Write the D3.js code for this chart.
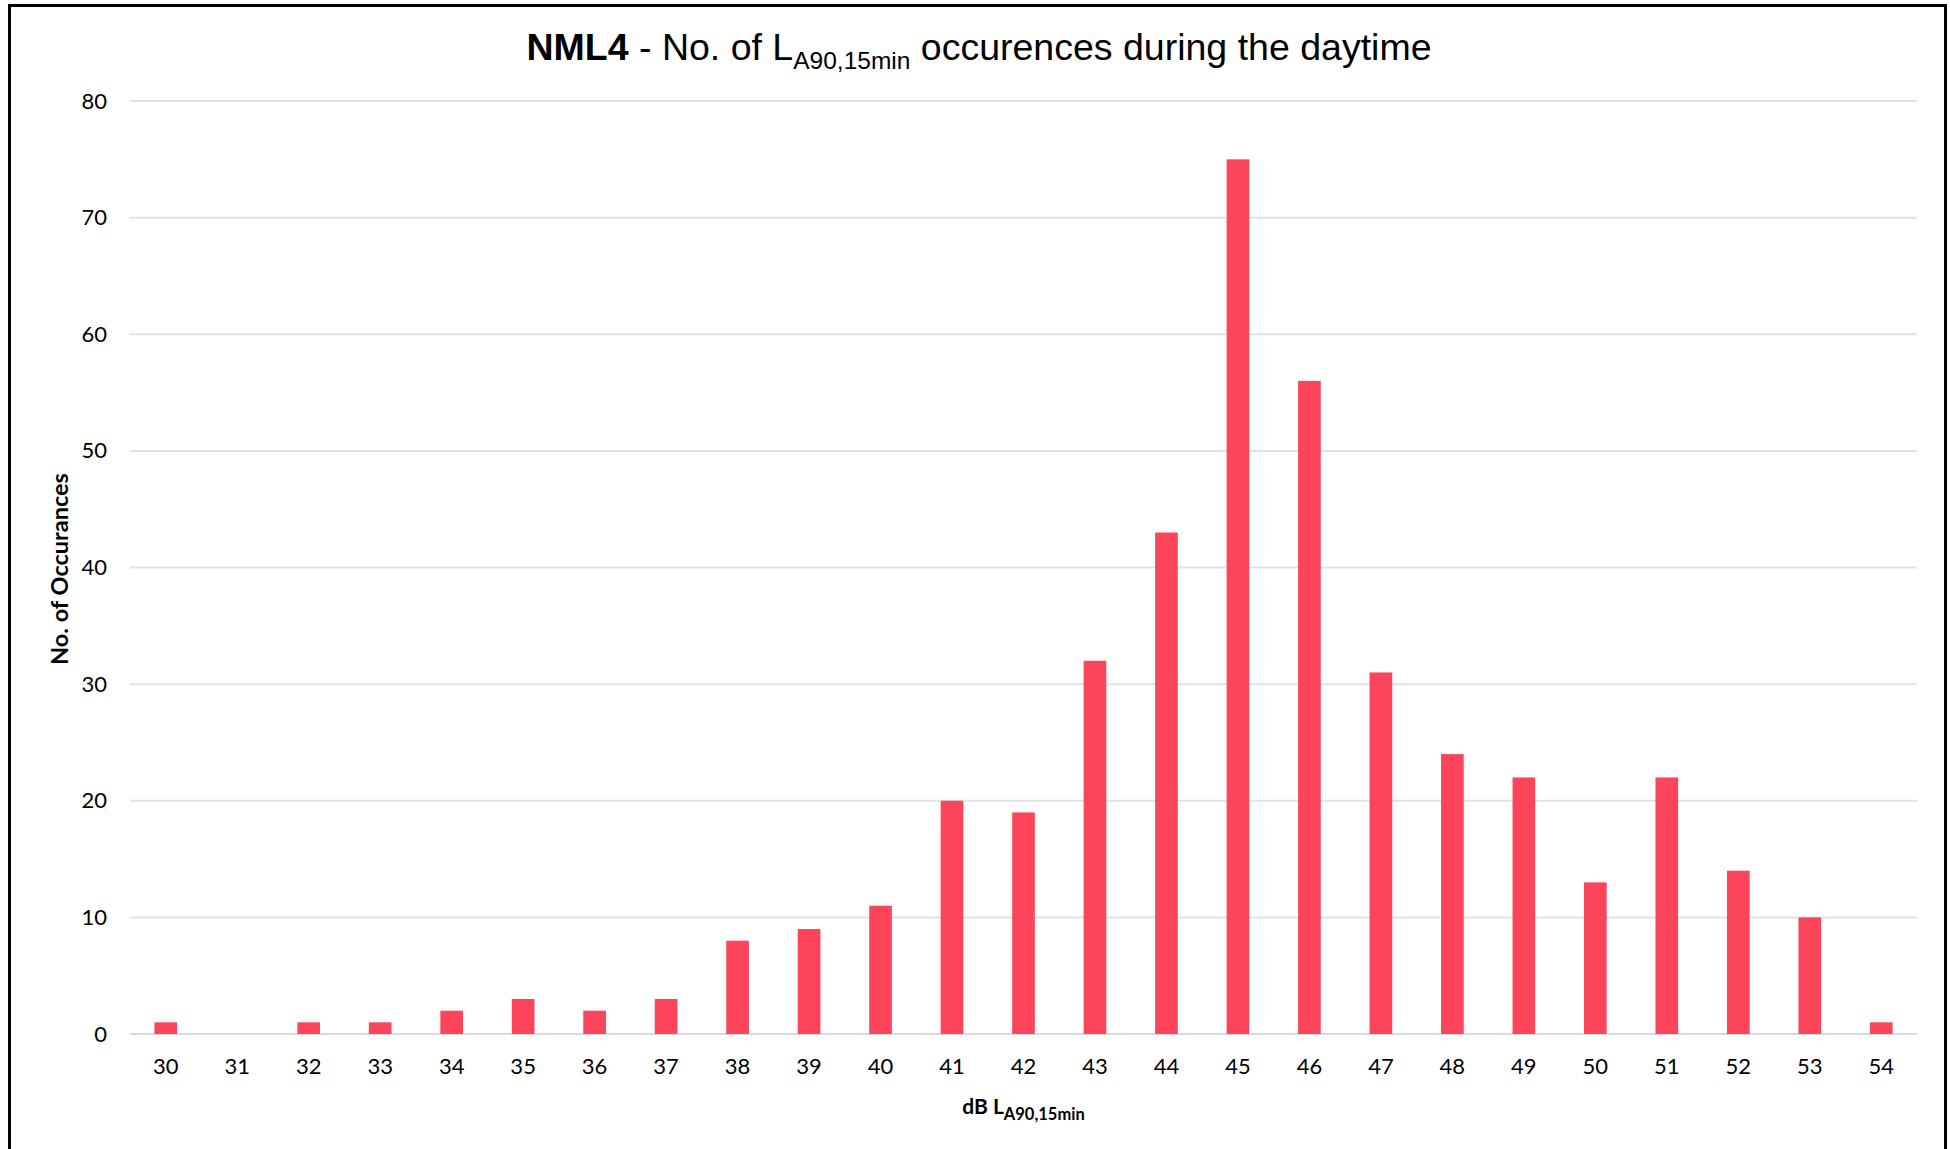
<!DOCTYPE html>
<html>
<head>
<meta charset="utf-8">
<script src="https://cdn.jsdelivr.net/npm/d3@7"></script>
<style>
  body { margin: 0; background: #fff; }
  svg { display: block; }
</style>
</head>
<body>
<script>
var levels = ['30','31','32','33','34','35','36','37','38','39','40','41','42','43','44','45','46','47','48','49','50','51','52','53','54']
var counts = [1, 0, 1, 1, 2, 3, 2, 3, 8, 9, 11, 20, 19, 32, 43, 75, 56, 31, 24, 22, 13, 22, 14, 10, 1]
var yTicks = [0, 10, 20, 30, 40, 50, 60, 70, 80]

var W = 1950, H = 1149
var margin = {top: 101, right: 33, bottom: 115, left: 130}
var width = W - margin.left - margin.right
var height = H - margin.top - margin.bottom

var svg = d3.select('body').append('svg')
  .attr('width', W)
  .attr('height', H)

// outer frame (no bottom edge visible)
svg.append('path')
  .attr('d', 'M9.5,' + H + ' V5.5 H1945.5 V' + H)
  .attr('fill', 'none')
  .attr('stroke', '#000')
  .attr('stroke-width', 3)

var g = svg.append('g')
  .attr('transform', `translate(${margin.left}, ${margin.top})`)

var x = d3.scaleBand().domain(levels).range([0, width]).paddingInner(0.683).paddingOuter(0.3415)
var y = d3.scaleLinear().domain([0, 80]).range([height, 0])

// gridlines
g.append('g')
  .selectAll('line')
  .data(yTicks)
  .enter().append('line')
  .attr('x1', 0)
  .attr('x2', width)
  .attr('y1', d => y(d))
  .attr('y2', d => y(d))
  .attr('stroke', d => d === 0 ? '#d6dadf' : '#dfe2e6')
  .attr('stroke-width', 2)

// y axis labels
var yAxis = g.append('g')
  .call(d3.axisLeft(y).tickValues(yTicks).tickSize(0).tickPadding(23))
yAxis.select('.domain').remove()
yAxis.selectAll('text')
  .attr('font-family', 'Lato, sans-serif')
  .attr('font-size', 22)
  .attr('fill', '#000')

// bars
g.selectAll('.bar')
  .data(counts)
  .enter().append('rect')
  .attr('class', 'bar')
  .attr('x', (d, i) => x(levels[i]))
  .attr('width', x.bandwidth())
  .attr('y', d => y(d))
  .attr('height', d => height - y(d))
  .attr('fill', '#fc445b')

// x axis labels
var xAxis = g.append('g')
  .attr('transform', `translate(0, ${height})`)
  .call(d3.axisBottom(x).tickSize(0).tickPadding(24))
xAxis.select('.domain').remove()
xAxis.selectAll('text')
  .attr('font-family', 'Lato, sans-serif')
  .attr('font-size', 22)
  .attr('fill', '#000')

// title
var title = svg.append('text')
  .attr('x', 979)
  .attr('y', 60)
  .attr('text-anchor', 'middle')
  .attr('font-family', '"Liberation Sans", Arial, sans-serif')
  .attr('font-size', 37.5)
  .attr('fill', '#000')
title.append('tspan').attr('font-weight', 'bold').text('NML4')
title.append('tspan').text(' - No. of L')
title.append('tspan').attr('font-size', 24.5).attr('dy', 9).text('A90,15min')
title.append('tspan').attr('dy', -9).text(' occurences during the daytime')

// x axis title
var xt = svg.append('text')
  .attr('x', margin.left + width / 2)
  .attr('y', 1114)
  .attr('text-anchor', 'middle')
  .attr('font-family', 'Lato, sans-serif')
  .attr('font-weight', 'bold')
  .attr('font-size', 21)
  .attr('fill', '#000')
xt.append('tspan').text('dB L')
xt.append('tspan').attr('font-size', 16.5).attr('dy', 6).text('A90,15min')

// y axis title
svg.append('text')
  .attr('transform', 'translate(68, 569) rotate(-90)')
  .attr('text-anchor', 'middle')
  .attr('font-family', 'Lato, sans-serif')
  .attr('font-weight', 'bold')
  .attr('font-size', 23.5)
  .attr('fill', '#000')
  .text('No. of Occurances')
</script>
</body>
</html>
